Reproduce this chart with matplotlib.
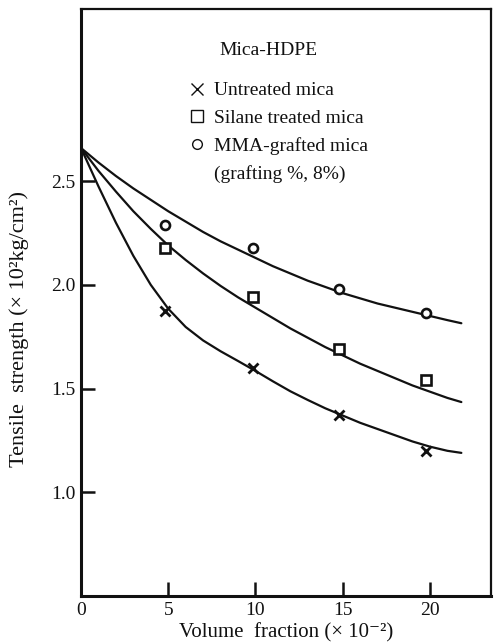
import matplotlib
matplotlib.use("Agg")
import matplotlib.pyplot as plt
from matplotlib.lines import Line2D

# Measured tensile strength of mica-filled HDPE
vol_fraction = [4.8, 9.85, 14.8, 19.75]          # volume fraction (x 10^-2)
untreated = [1.875, 1.60, 1.375, 1.20]           # x 10^2 kg/cm^2
silane = [2.18, 1.94, 1.69, 1.54]
mma_grafted = [2.29, 2.18, 1.98, 1.865]

# Smooth fitted curves drawn through the data
curve_x = [0, 1, 2, 3, 4, 5, 6, 7, 8, 9, 10, 11, 12, 13, 14, 15, 16, 17, 18,
           19, 20, 21, 21.8]
curve_untreated = [2.66, 2.475, 2.30, 2.14, 2.0, 1.885, 1.797, 1.732, 1.68,
                   1.633, 1.585, 1.535, 1.487, 1.445, 1.405, 1.37, 1.335,
                   1.305, 1.275, 1.245, 1.22, 1.20, 1.19]
curve_silane = [2.66, 2.55, 2.45, 2.355, 2.27, 2.19, 2.12, 2.055, 1.995, 1.94,
                1.89, 1.84, 1.79, 1.745, 1.70, 1.66, 1.62, 1.585, 1.55, 1.515,
                1.485, 1.455, 1.435]
curve_mma = [2.66, 2.59, 2.525, 2.465, 2.41, 2.355, 2.305, 2.255, 2.21, 2.17,
             2.13, 2.09, 2.055, 2.02, 1.99, 1.96, 1.935, 1.91, 1.89, 1.87,
             1.85, 1.83, 1.815]

x_ticks = [0, 5, 10, 15, 20]
x_tick_labels = ["0", "5", "10", "15", "20"]
y_ticks = [1.0, 1.5, 2.0, 2.5]
y_tick_labels = ["1.0", "1.5", "2.0", "2.5"]

legend_title = "Mica-HDPE"
series_labels = ["Untreated mica", "Silane treated mica", "MMA-grafted mica",
                 "(grafting %, 8%)"]

plt.rcParams["font.family"] = ["Liberation Serif", "DejaVu Serif"]

fig = plt.figure(figsize=(4.99, 6.43), dpi=100)
ax = fig.add_axes([0.1623, 0.0731, 0.8217, 0.9129])

ink = "#111111"
for ys in (curve_untreated, curve_silane, curve_mma):
    ax.plot(curve_x, ys, color=ink, lw=1.6, solid_capstyle="round",
            solid_joinstyle="round")

ax.plot(vol_fraction, untreated, linestyle="none", marker="x", ms=7.5,
        mew=2.0, color=ink)
ax.plot(vol_fraction, silane, linestyle="none", marker="s", ms=6.5,
        mew=1.9, mfc="white", mec=ink)
ax.plot(vol_fraction, mma_grafted, linestyle="none", marker="o", ms=6.5,
        mew=1.9, mfc="white", mec=ink)

ax.set_xlim(0, 23.5)
ax.set_ylim(0.5, 3.33)

ax.set_xticks(x_ticks)
ax.set_xticklabels(x_tick_labels)
ax.set_yticks(y_ticks)
ax.set_yticklabels(y_tick_labels)
ax.tick_params(axis="both", direction="in", length=10, width=1.8,
               colors=ink, labelsize=14, pad=4)
ax.tick_params(top=False, right=False)

for side in ("left", "bottom"):
    ax.spines[side].set_linewidth(2.2)
for side in ("top", "right"):
    ax.spines[side].set_linewidth(1.6)
for sp in ax.spines.values():
    sp.set_color(ink)

ax.set_xlabel("Volume  fraction (× 10⁻²)", fontsize=15, labelpad=3,
              color=ink)
ax.set_ylabel("Tensile  strength (× 10²kg/cm²)", fontsize=16, color=ink)
ax.yaxis.set_label_coords(-0.128, 0.455)

# Legend block
ax.text(0.337, 0.930, legend_title, transform=ax.transAxes, fontsize=14,
        va="center", ha="left", color=ink)

handles = [
    Line2D([], [], linestyle="none", marker="x", ms=8, mew=1.0, color=ink),
    Line2D([], [], linestyle="none", marker="s", ms=9, mew=1.0, mfc="white",
           mec=ink),
    Line2D([], [], linestyle="none", marker="o", ms=7, mew=1.0, mfc="white",
           mec=ink),
    Line2D([], [], linestyle="none"),
]
ax.legend(handles, series_labels, loc="upper left",
          bbox_to_anchor=(0.263, 0.876), frameon=False, fontsize=14,
          handlelength=0.8, handletextpad=0.5, labelspacing=0.52,
          borderpad=0, borderaxespad=0, labelcolor=ink)

fig.savefig("out.png", dpi=100)
